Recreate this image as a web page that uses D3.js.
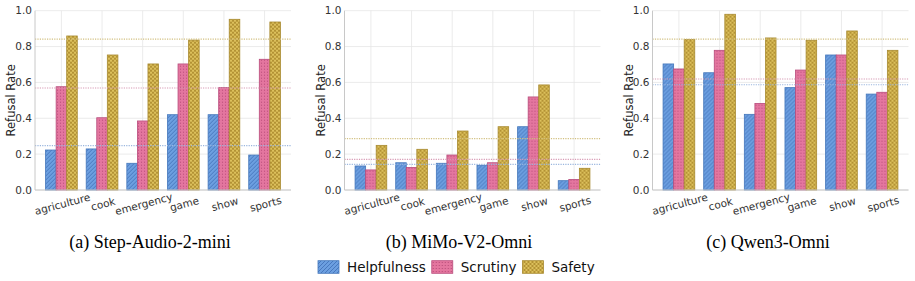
<!DOCTYPE html>
<html>
<head>
<meta charset="utf-8">
<script src="https://cdn.jsdelivr.net/npm/d3@7"></script>
<style>
  body { margin: 0; background: #fff; }
  svg { display: block; }
</style>
</head>
<body>
<svg id="drawing_region"></svg>
<script>
const categories = ["agriculture", "cook", "emergency", "game", "show", "sports"];
const seriesNames = ["Helpfulness", "Scrutiny", "Safety"];
const panelTitles = ["(a) Step-Audio-2-mini", "(b) MiMo-V2-Omni", "(c) Qwen3-Omni"];
const yTicks = [0.0, 0.2, 0.4, 0.6, 0.8, 1.0];

// (a) Step-Audio-2-mini
const stepHelpfulness = [0.223, 0.229, 0.149, 0.420, 0.420, 0.195];
const stepScrutiny    = [0.576, 0.403, 0.385, 0.703, 0.571, 0.729];
const stepSafety      = [0.859, 0.753, 0.703, 0.836, 0.952, 0.937];
const stepRefLines    = [0.247, 0.569, 0.842];

// (b) MiMo-V2-Omni
const mimoHelpfulness = [0.134, 0.152, 0.149, 0.138, 0.353, 0.052];
const mimoScrutiny    = [0.112, 0.126, 0.195, 0.152, 0.519, 0.059];
const mimoSafety      = [0.249, 0.227, 0.329, 0.353, 0.586, 0.121];
const mimoRefLines    = [0.143, 0.171, 0.286];

// (c) Qwen3-Omni
const qwenHelpfulness = [0.703, 0.654, 0.422, 0.571, 0.753, 0.535];
const qwenScrutiny    = [0.675, 0.779, 0.483, 0.669, 0.753, 0.545];
const qwenSafety      = [0.840, 0.980, 0.848, 0.835, 0.887, 0.779];
const qwenRefLines    = [0.587, 0.619, 0.842];

const fills   = ["url(#pat0)", "url(#pat1)", "url(#pat2)"];
const edges   = ["#4477bb", "#b84c7c", "#a88a30"];
const refCols = ["#9ab6de", "#d89ab4", "#d2c080"];

const svg = d3.select('#drawing_region')
    .attr('width', 915)
    .attr('height', 281);

// hatch patterns
const defs = svg.append('defs');
const p0 = defs.append('pattern').attr('id', 'pat0')
    .attr('patternUnits', 'userSpaceOnUse').attr('width', 4).attr('height', 4);
p0.append('rect').attr('width', 4).attr('height', 4).attr('fill', '#6c9fe0');
p0.append('path').attr('d', 'M-1,1 l2,-2 M0,4 l4,-4 M3,5 l2,-2')
    .attr('stroke', '#3f6fb5').attr('stroke-width', 0.8);

const p1 = defs.append('pattern').attr('id', 'pat1')
    .attr('patternUnits', 'userSpaceOnUse').attr('width', 3).attr('height', 3);
p1.append('rect').attr('width', 3).attr('height', 3).attr('fill', '#e4769f');
p1.append('circle').attr('cx', 1.5).attr('cy', 1.5).attr('r', 0.6).attr('fill', '#b24574');

const p2 = defs.append('pattern').attr('id', 'pat2')
    .attr('patternUnits', 'userSpaceOnUse').attr('width', 4).attr('height', 4);
p2.append('rect').attr('width', 4).attr('height', 4).attr('fill', '#dcc05c');
p2.append('path').attr('d', 'M0,0 L4,4 M4,0 L0,4')
    .attr('stroke', '#a8872a').attr('stroke-width', 0.8);

class BarPanel {
    constructor( config, series, refLines ) {
        this.config = config;
        this.series = series;
        this.refLines = refLines;
        this.init();
    }

    init() {
        let self = this;
        self.chart = svg.append('g')
            .attr('transform', `translate(${self.config.left}, ${self.config.top})`);

        self.xscale = d3.scaleLinear()
            .domain([-0.65, categories.length - 0.35])
            .range([0, self.config.width]);
        self.yscale = d3.scaleLinear()
            .domain([0, 1])
            .range([self.config.height, 0]);
        self.render();
    }

    render() {
        let self = this;
        const w = self.config.width, h = self.config.height;

        // grid
        self.chart.selectAll('.hgrid').data(yTicks).enter()
            .append('line')
            .attr('x1', 0).attr('x2', w)
            .attr('y1', d => self.yscale(d)).attr('y2', d => self.yscale(d))
            .attr('stroke', '#e6e6e6').attr('stroke-width', 0.8);
        self.chart.selectAll('.vgrid').data(categories).enter()
            .append('line')
            .attr('x1', (d, i) => self.xscale(i)).attr('x2', (d, i) => self.xscale(i))
            .attr('y1', 0).attr('y2', h)
            .attr('stroke', '#e6e6e6').attr('stroke-width', 0.8);

        // bars
        const bw = 0.26;
        self.series.forEach((vals, s) => {
            self.chart.append('g').selectAll('rect').data(vals).enter()
                .append('rect')
                .attr('x', (d, i) => self.xscale(i + (s - 1) * bw - bw / 2))
                .attr('width', self.xscale(bw) - self.xscale(0))
                .attr('y', d => self.yscale(d))
                .attr('height', d => h - self.yscale(d))
                .attr('fill', fills[s])
                .attr('stroke', edges[s])
                .attr('stroke-width', 0.8);
        });

        // dotted reference lines
        self.chart.selectAll('.ref').data(self.refLines).enter()
            .append('line')
            .attr('x1', 0).attr('x2', w)
            .attr('y1', d => self.yscale(d)).attr('y2', d => self.yscale(d))
            .attr('stroke', (d, i) => refCols[i])
            .attr('stroke-width', 1.2)
            .attr('stroke-dasharray', '1.2,1.2');

        // spines
        self.chart.append('line')
            .attr('x1', 0).attr('x2', 0).attr('y1', 0).attr('y2', h)
            .attr('stroke', '#c8c8c8').attr('stroke-width', 1);
        self.chart.append('line')
            .attr('x1', 0).attr('x2', w).attr('y1', h).attr('y2', h)
            .attr('stroke', '#c8c8c8').attr('stroke-width', 1);

        // y tick labels
        self.chart.selectAll('.ytick').data(yTicks).enter()
            .append('text')
            .attr('x', -3)
            .attr('y', d => self.yscale(d))
            .attr('dy', '0.36em')
            .attr('text-anchor', 'end')
            .attr('font-family', 'DejaVu Sans')
            .attr('font-size', '10.5px')
            .attr('fill', '#333')
            .text(d => d.toFixed(1));

        // x tick labels
        self.chart.selectAll('.xtick').data(categories).enter()
            .append('text')
            .attr('transform', (d, i) => `translate(${self.xscale(i) + 1}, ${h + 14}) rotate(-15)`)
            .attr('dy', '0.36em')
            .attr('text-anchor', 'middle')
            .attr('font-family', 'DejaVu Sans')
            .attr('font-size', '10.5px')
            .attr('fill', '#333')
            .text(d => d);

        // y label
        self.chart.append('text')
            .attr('transform', `translate(-20, ${h / 2}) rotate(-90)`)
            .attr('text-anchor', 'middle')
            .attr('font-family', 'DejaVu Sans')
            .attr('font-size', '11.5px')
            .attr('fill', '#222')
            .text('Refusal Rate');

        // panel title
        svg.append('text')
            .attr('x', self.config.titleX)
            .attr('y', 248)
            .attr('text-anchor', 'middle')
            .attr('font-family', 'Liberation Serif')
            .attr('font-size', '18px')
            .attr('fill', '#000')
            .text(self.config.title);
    }
}

const panelLefts = [35, 344.5, 652.5];
const titleXs = [150, 459, 768];
const allSeries = [
    [stepHelpfulness, stepScrutiny, stepSafety],
    [mimoHelpfulness, mimoScrutiny, mimoSafety],
    [qwenHelpfulness, qwenScrutiny, qwenSafety]
];
const allRefs = [stepRefLines, mimoRefLines, qwenRefLines];

panelTitles.forEach((t, k) => {
    new BarPanel({
        left: panelLefts[k], top: 10.7, width: 256, height: 179.3,
        title: t, titleX: titleXs[k]
    }, allSeries[k], allRefs[k]);
});

// legend
const legend = svg.append('g');
let cursor = 0;
seriesNames.forEach((name, s) => {
    const item = legend.append('g').attr('transform', `translate(${cursor}, 0)`);
    item.append('rect')
        .attr('x', 0).attr('y', 260.7)
        .attr('width', 21).attr('height', 12.6)
        .attr('fill', fills[s]).attr('stroke', edges[s]).attr('stroke-width', 0.8);
    const txt = item.append('text')
        .attr('x', 29).attr('y', 271.6)
        .attr('font-family', 'DejaVu Sans')
        .attr('font-size', '13.5px')
        .attr('fill', '#111')
        .text(name);
    cursor += 29 + txt.node().getComputedTextLength() + 6;
});
legend.attr('transform', `translate(${318}, 0)`);
</script>
</body>
</html>
